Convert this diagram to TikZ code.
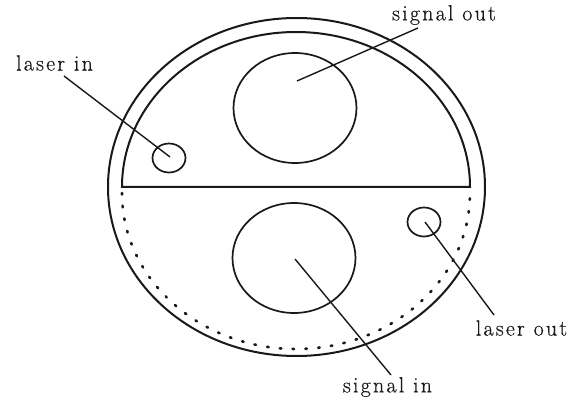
\documentclass[tikz,border=0pt]{standalone}
\usepackage{fontspec}
\setmainfont{Latin Modern Roman}[LetterSpace=10,FakeBold=0.4]
\usetikzlibrary{shapes.geometric}
\tikzset{
  x=1pt,y=-1pt,
  wall/.style={draw=black!90,line width=2pt},
  port/.style={shape=ellipse,draw=black!90,line width=1.7pt,inner sep=0pt},
  big/.style={port,minimum width=123pt,minimum height=110pt},
  small/.style={port,minimum width=33pt,minimum height=29pt},
  leader/.style={draw=black!90,line width=1.4pt},
  lab/.style={font=\fontsize{22}{25}\selectfont,inner sep=0pt,text=black!90},
}
\begin{document}
\begin{tikzpicture}
\useasboundingbox (0,0) rectangle (579,401);
\fill[white] (0,0) rectangle (579,401);
\draw[wall] (296.5,187) ellipse [x radius=188.5,y radius=169];
\draw[wall] (122,187) arc [start angle=180,end angle=0,x radius=174,y radius=-155] -- cycle;
\draw[draw=black!90,line width=2.7pt,line cap=round,dash pattern=on 1.5pt off 11.3pt]
  (122,193) arc [start angle=180,end angle=360,x radius=174,y radius=-156];
\node[big] (sout) at (295,108) {};
\node[big] (sin) at (294,258) {};
\node[small] (lin) at (169,158) {};
\node[small] (lout) at (424,222) {};
\node[lab] (tlin) at (54.5,63) {laser in};
\node[lab] (tsout) at (444,15) {signal out};
\node[lab] (tlout) at (521.5,328) {laser out};
\node[lab] (tsin) at (387.5,387) {signal in};
\coordinate (a1) at (64,76);
\coordinate (a2) at (418,28);
\coordinate (a3) at (494,315);
\coordinate (a4) at (391,375);
\coordinate (b1) at (170,157);
\coordinate (b2) at (297,81);
\coordinate (b3) at (425,222);
\coordinate (b4) at (295,259);
\draw[leader] (a1) -- (b1);
\draw[leader] (a2) -- (b2);
\draw[leader] (a3) -- (b3);
\draw[leader] (a4) -- (b4);
\end{tikzpicture}
\end{document}
